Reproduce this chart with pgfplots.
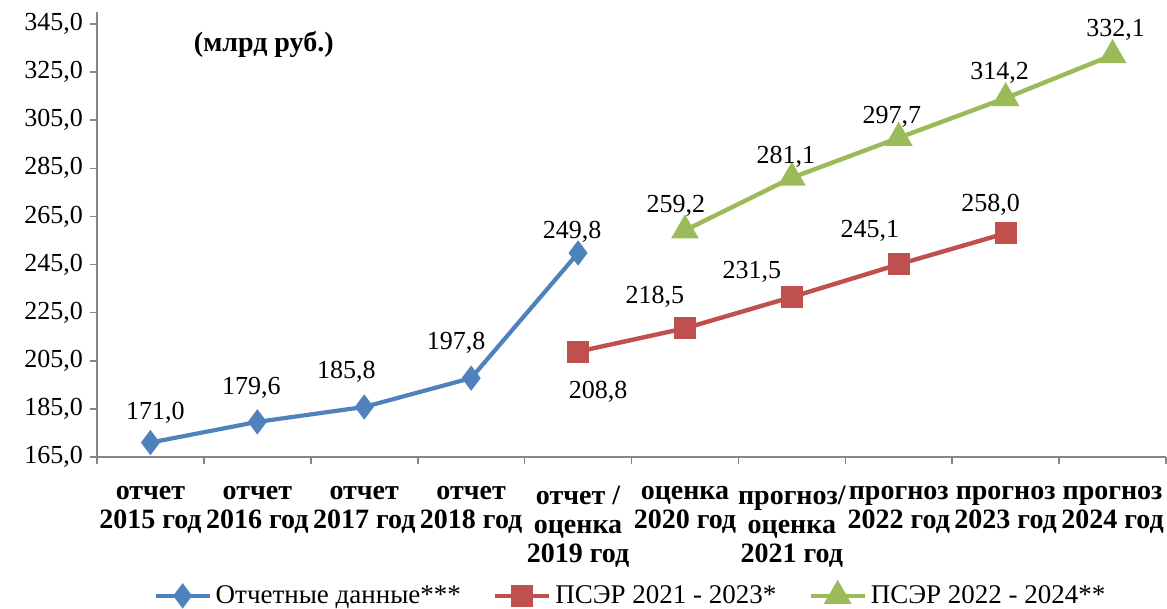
\documentclass[border=0pt]{standalone}
\usepackage{fontspec}
\setmainfont{Liberation Serif}
\usepackage{pgfplots}
\usepackage{pgfplotstable}
\pgfplotsset{compat=1.18}

\definecolor{cblue}{RGB}{79,129,189}
\definecolor{cred}{RGB}{192,80,77}
\definecolor{cgreen}{RGB}{155,187,89}
\definecolor{caxis}{RGB}{134,134,134}

% x = category index, dx/dy = label offset in pt
\pgfplotstableread{
x y dx dy
0 171.0 2.5 15
1 179.6 -3 17
2 185.8 -9 17.5
3 197.8 -7.5 17.5
4 249.8 -3 10.5
}\otchet
\pgfplotstableread{
x y dx dy
4 208.8 10 -20
5 218.5 -15 15.5
6 231.5 -20 12.5
7 245.1 -14.5 16.5
8 258.0 -7.5 14
}\psera
\pgfplotstableread{
x y dx dy
5 259.2 -4.5 12.5
6 281.1 -3 10.5
7 297.7 -3.5 10.5
8 314.2 -3 12.5
9 332.1 1.5 12.5
}\pserb

\begin{document}
\begin{tikzpicture}
\begin{axis}[
    name=ax,
    scale only axis,
    width=534.5pt, height=222.5pt,
    xmin=-0.5, xmax=9.5,
    ymin=165, ymax=350,
    axis lines*=left,
    axis line style={caxis, line width=0.8pt},
    tick style={caxis, line width=0.8pt},
    tick align=outside,
    major tick length=3.5pt,
    xtick={-0.5,0.5,...,9.5},
    x tick label as interval,
    xticklabels={{отчет\\2015 год},{отчет\\2016 год},{отчет\\2017 год},{отчет\\2018 год},
      {отчет /\\оценка\\2019 год},{оценка\\2020 год},{прогноз/\\оценка\\2021 год},
      {прогноз\\2022 год},{прогноз\\2023 год},{прогноз\\2024 год}},
    xticklabel style={align=center, font=\fontsize{14}{14.5}\selectfont\bfseries,
      inner sep=2pt, yshift=-9pt},
    ytick={165,185,...,345},
    yticklabel style={font=\fontsize{13}{14}\selectfont},
    /pgf/number format/.cd, fixed, fixed zerofill, precision=1, use comma, assume math mode=true,
    /pgfplots/.cd,
    nodes near coords,
    point meta=explicit,
    visualization depends on={\thisrow{dx}\as\dx},
    visualization depends on={\thisrow{dy}\as\dy},
    every node near coord/.append style={anchor=center, text=black,
      font=\fontsize{13}{14}\selectfont, xshift=\dx pt, yshift=\dy pt},
    legend columns=3,
    legend style={at={(0.5,-0.312)}, anchor=center, draw=none,
      font=\fontsize{13.5}{14}\selectfont, inner sep=1pt,
      /tikz/every even column/.append style={column sep=14pt}},
    legend image code/.code={\draw[mark repeat=2,mark phase=2] plot coordinates {(0pt,0pt) (13.5pt,0pt) (27pt,0pt)};},
  ]
  \addplot[cblue, line width=2.1pt, mark=diamond*, mark size=4.6pt, mark options={solid}]
    table[x=x, y=y, meta=y] {\otchet};
  \addlegendentry{Отчетные данные***}
  \addplot[cred, line width=2.2pt, mark=square*, mark size=4.4pt]
    table[x=x, y=y, meta=y] {\psera};
  \addlegendentry{ПСЭР 2021 - 2023*}
  \addplot[cgreen, line width=2.2pt, mark=triangle*, mark size=5.8pt]
    table[x=x, y=y, meta=y] {\pserb};
  \addlegendentry{ПСЭР 2022 - 2024**}
  \node[font=\fontsize{14}{16}\selectfont\bfseries] at (rel axis cs:0.156,0.926) {(млрд руб.)};
\end{axis}
\pgfresetboundingbox
\path ([shift={(-48.5pt,-76pt)}]ax.south west) rectangle ([shift={(0.5pt,6pt)}]ax.north east);
\end{tikzpicture}
\end{document}
